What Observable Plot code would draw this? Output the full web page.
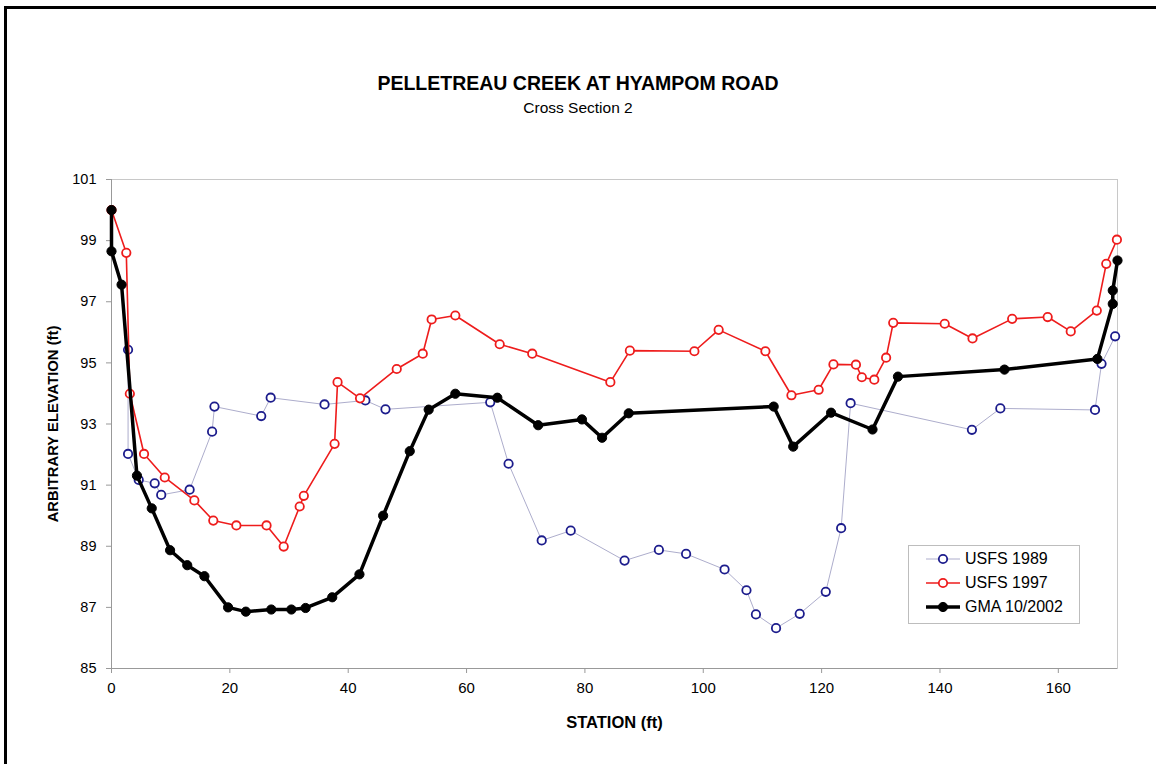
<!DOCTYPE html>
<html>
<head>
<meta charset="utf-8">
<script src="https://cdn.jsdelivr.net/npm/d3@7"></script>
<script src="https://cdn.jsdelivr.net/npm/@observablehq/plot@0.6"></script>
<style>
  body { margin: 0; background: #fff; font-family: "Liberation Sans", Arial, sans-serif; }
  #wrap { position: relative; width: 1156px; height: 764px; overflow: hidden; background: #fff; }
  #frame { position: absolute; left: 4px; top: 6px; width: 1300px; height: 900px; border-top: 3px solid #000; border-left: 3px solid #000; pointer-events: none; }
  #header { position: relative; height: 130px; }
  #title { position: absolute; left: 0; width: 1156px; top: 72px; text-align: center; font-weight: bold; font-size: 19.5px; color: #000; }
  #subtitle { position: absolute; left: 0; width: 1156px; top: 99px; text-align: center; font-size: 15.5px; color: #000; }
  #legend { position: absolute; left: 908px; top: 545px; width: 170px; height: 77px; border: 1px solid #bdbdbd; background: #fff; }
  .row { position: absolute; left: 0; height: 24px; display: flex; align-items: center; }
  .row span { font-size: 16px; color: #000; margin-left: 4px; }
</style>
</head>
<body>
<div id="wrap">
  <div id="header">
    <div id="title">PELLETREAU CREEK AT HYAMPOM ROAD</div>
    <div id="subtitle">Cross Section 2</div>
  </div>
  <div id="chart"></div>
  <div id="legend"></div>
  <div id="frame"></div>
</div>
<script>
// ---- data ----
const seriesNames = ["USFS 1989", "USFS 1997", "GMA 10/2002"];

const station1989 = [2.8, 2.8, 4.6, 7.3, 8.4, 13.2, 17.0, 17.4, 25.3, 26.9, 36.0, 42.9, 46.3, 64.0, 67.1, 72.7, 77.6, 86.7, 92.5, 97.1, 103.6, 107.3, 108.9, 112.3, 116.3, 120.7, 123.3, 124.9, 145.4, 150.2, 166.2, 167.3, 169.6];
const elev1989    = [95.43, 92.02, 91.17, 91.06, 90.68, 90.85, 92.75, 93.57, 93.26, 93.86, 93.64, 93.77, 93.48, 93.71, 91.70, 89.19, 89.51, 88.53, 88.88, 88.75, 88.24, 87.56, 86.77, 86.32, 86.79, 87.51, 89.59, 93.68, 92.81, 93.51, 93.46, 94.97, 95.87];

const station1997 = [0.0, 2.5, 3.1, 5.5, 9.0, 14.0, 17.2, 21.1, 26.2, 29.1, 31.8, 32.5, 37.7, 38.2, 42.0, 48.2, 52.6, 54.1, 58.1, 65.6, 71.1, 84.3, 87.6, 98.5, 102.6, 110.5, 114.9, 119.5, 122.0, 125.8, 126.8, 128.9, 130.9, 132.1, 140.8, 145.5, 152.2, 158.2, 162.1, 166.5, 168.1, 169.9];
const elev1997    = [100.0, 98.60, 93.99, 92.02, 91.25, 90.50, 89.84, 89.68, 89.68, 88.99, 90.30, 90.65, 92.35, 94.37, 93.84, 94.80, 95.30, 96.42, 96.55, 95.61, 95.30, 94.37, 95.40, 95.38, 96.08, 95.38, 93.94, 94.12, 94.95, 94.94, 94.53, 94.45, 95.17, 96.31, 96.28, 95.80, 96.44, 96.50, 96.03, 96.71, 98.24, 99.03];

const station2002 = [0.0, 0.0, 1.7, 4.3, 6.8, 9.9, 12.8, 15.7, 19.7, 22.7, 27.0, 30.4, 32.8, 37.3, 41.9, 45.9, 50.4, 53.6, 58.1, 65.2, 72.1, 79.5, 82.9, 87.4, 111.9, 115.2, 121.6, 128.6, 132.9, 150.9, 166.6, 169.2, 169.2, 170.0];
const elev2002    = [100.0, 98.65, 97.56, 91.31, 90.24, 88.87, 88.38, 88.02, 87.00, 86.86, 86.93, 86.93, 86.98, 87.33, 88.08, 90.00, 92.11, 93.47, 93.99, 93.86, 92.96, 93.15, 92.55, 93.35, 93.57, 92.26, 93.37, 92.82, 94.55, 94.78, 95.13, 96.93, 97.37, 98.35];

const xTicks = [0, 20, 40, 60, 80, 100, 120, 140, 160];
const yTicks = [85, 87, 89, 91, 93, 95, 97, 99, 101];
const xLabel = "STATION (ft)";
const yLabel = "ARBITRARY ELEVATION (ft)";

// ---- build tables ----
const toRows = (xs, ys, name) => xs.map((x, i) => ({station: x, elev: ys[i], series: name}));
const d1989 = toRows(station1989, elev1989, seriesNames[0]);
const d1997 = toRows(station1997, elev1997, seriesNames[1]);
const d2002 = toRows(station2002, elev2002, seriesNames[2]);

const styles = {
  "USFS 1989": {line: "#adadcc", lw: 1, dotStroke: "#1c1c8c", dotFill: "#fff", r: 4.2, sw: 1.8},
  "USFS 1997": {line: "#ee1c1c", lw: 1.6, dotStroke: "#ee1c1c", dotFill: "#fff", r: 4.2, sw: 1.8},
  "GMA 10/2002": {line: "#000", lw: 3.5, dotStroke: "#000", dotFill: "#000", r: 4.6, sw: 1}
};

const font = "'Liberation Sans', Arial, sans-serif";

const seriesMarks = (data, name) => {
  const s = styles[name];
  return [
    Plot.line(data, {x: "station", y: "elev", stroke: s.line, strokeWidth: s.lw, strokeLinejoin: "round"}),
    Plot.dot(data, {x: "station", y: "elev", r: s.r, stroke: s.dotStroke, fill: s.dotFill, strokeWidth: s.sw})
  ];
};

const chart = Plot.plot({
  width: 1156,
  height: 634,
  marginLeft: 111,
  marginRight: 39,
  marginTop: 49,
  marginBottom: 96,
  style: {fontFamily: font, fontSize: "14.5px", color: "#000", background: "transparent"},
  x: {domain: [0, 170]},
  y: {domain: [85, 101]},
  marks: [
    Plot.frame({stroke: "#c8c8c8"}),
    Plot.axisX({ticks: xTicks, tickSize: 5, tickPadding: 9, label: null, stroke: "#999", fontSize: 15}),
    Plot.axisY({ticks: yTicks, tickSize: 5, tickPadding: 10, label: null, stroke: "#999", fontSize: 14.5}),
    Plot.ruleY([85], {stroke: "#999"}),
    Plot.ruleX([0], {stroke: "#999"}),
    ...seriesMarks(d1989, seriesNames[0]),
    ...seriesMarks(d1997, seriesNames[1]),
    ...seriesMarks(d2002, seriesNames[2]),
    Plot.text([xLabel], {frameAnchor: "bottom", dy: 54, lineAnchor: "middle", text: d => d, fontWeight: "bold", fontSize: 16.5}),
    Plot.text([yLabel], {frameAnchor: "left", dx: -58, rotate: -90, lineAnchor: "middle", textAnchor: "middle", text: d => d, fontWeight: "bold", fontSize: 14.8})
  ]
});
document.getElementById("chart").appendChild(chart);

// ---- legend ----
const legend = document.getElementById("legend");
seriesNames.forEach((name, i) => {
  const s = styles[name];
  const row = document.createElement("div");
  row.className = "row";
  row.style.top = (1 + i * 24) + "px";
  row.style.left = "16px";
  const ns = "http://www.w3.org/2000/svg";
  const svg = document.createElementNS(ns, "svg");
  svg.setAttribute("width", 36);
  svg.setAttribute("height", 24);
  const ln = document.createElementNS(ns, "line");
  ln.setAttribute("x1", 1); ln.setAttribute("x2", 35); ln.setAttribute("y1", 12); ln.setAttribute("y2", 12);
  ln.setAttribute("stroke", s.line); ln.setAttribute("stroke-width", s.lw);
  svg.appendChild(ln);
  const c = document.createElementNS(ns, "circle");
  c.setAttribute("cx", 18); c.setAttribute("cy", 12); c.setAttribute("r", s.r);
  c.setAttribute("fill", s.dotFill); c.setAttribute("stroke", s.dotStroke); c.setAttribute("stroke-width", s.sw);
  svg.appendChild(c);
  row.appendChild(svg);
  const t = document.createElement("span");
  t.textContent = name;
  row.appendChild(t);
  legend.appendChild(row);
});
</script>
</body>
</html>
